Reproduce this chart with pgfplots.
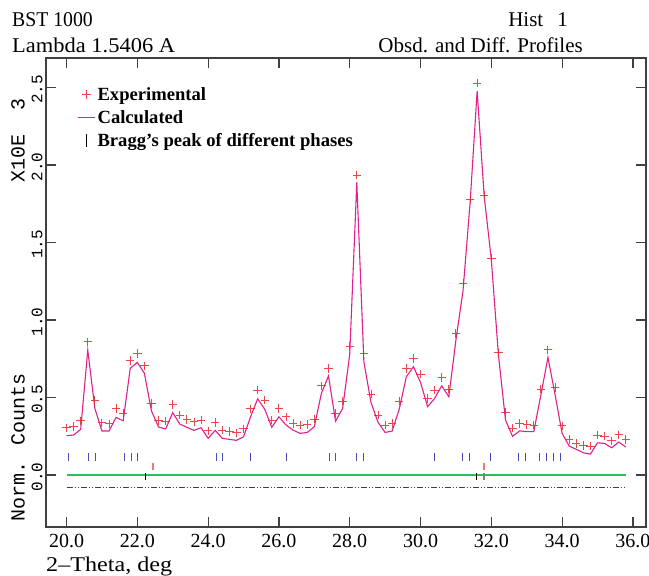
\documentclass[border=0pt]{standalone}
\usepackage{pgfplots}
\pgfplotsset{compat=1.18}
\usepackage{pgfplotstable}
\usepackage{fontspec}
\setmainfont{Liberation Serif}
\newfontfamily\monofont{Liberation Mono}
\definecolor{expred}{HTML}{E8262A}
\definecolor{calcmag}{HTML}{E0208C}
\definecolor{braggblue}{HTML}{4A4AB8}
\definecolor{braggred}{HTML}{F07878}
\definecolor{zgreen}{HTML}{2DBE5A}
\definecolor{axgray}{HTML}{404040}

\pgfplotstableread{
x y
20.0 0.305
20.2 0.314
20.4 0.350
20.6 0.860
20.8 0.484
21.0 0.337
21.2 0.331
21.4 0.430
21.6 0.398
21.8 0.740
22.0 0.785
22.2 0.705
22.4 0.462
22.6 0.353
22.8 0.348
23.0 0.456
23.2 0.387
23.4 0.359
23.6 0.344
23.8 0.355
24.0 0.286
24.2 0.340
24.4 0.290
24.6 0.280
24.8 0.273
25.0 0.299
25.2 0.428
25.4 0.548
25.6 0.484
25.8 0.355
26.0 0.430
26.2 0.376
26.4 0.333
26.6 0.323
26.8 0.327
27.0 0.361
27.2 0.576
27.4 0.688
27.6 0.398
27.8 0.477
28.0 0.828
28.2 1.935
28.4 0.785
28.6 0.523
28.8 0.387
29.0 0.323
29.2 0.333
29.4 0.477
29.6 0.688
29.8 0.753
30.0 0.650
30.2 0.495
30.4 0.548
30.6 0.628
30.8 0.555
31.0 0.914
31.2 1.237
31.4 1.780
31.6 2.527
31.8 1.802
32.0 1.398
32.2 0.789
32.4 0.404
32.6 0.303
32.8 0.333
33.0 0.327
33.2 0.323
33.4 0.554
33.6 0.808
33.8 0.565
34.0 0.317
34.2 0.230
34.4 0.204
34.6 0.191
34.8 0.187
35.0 0.258
35.2 0.252
35.4 0.221
35.6 0.260
35.8 0.230
}\expdata

\pgfplotstableread{
x y
20.0 0.254
20.2 0.258
20.4 0.295
20.6 0.806
20.8 0.430
21.0 0.284
21.2 0.284
21.4 0.372
21.6 0.350
21.8 0.688
22.0 0.727
22.2 0.656
22.4 0.413
22.6 0.310
22.8 0.297
23.0 0.403
23.2 0.329
23.4 0.308
23.6 0.288
23.8 0.305
24.0 0.237
24.2 0.288
24.4 0.237
24.6 0.230
24.8 0.224
25.0 0.247
25.2 0.376
25.4 0.492
25.6 0.424
25.8 0.308
26.0 0.376
26.2 0.323
26.4 0.290
26.6 0.269
26.8 0.275
27.0 0.312
27.2 0.527
27.4 0.639
27.6 0.348
27.8 0.430
28.0 0.778
28.2 1.888
28.4 0.731
28.6 0.469
28.8 0.340
29.0 0.275
29.2 0.284
29.4 0.426
29.6 0.634
29.8 0.699
30.0 0.598
30.2 0.441
30.4 0.495
30.6 0.576
30.8 0.505
31.0 0.871
31.2 1.187
31.4 1.753
31.6 2.477
31.8 1.796
32.0 1.391
32.2 0.778
32.4 0.355
32.6 0.250
32.8 0.285
33.0 0.280
33.2 0.280
33.4 0.516
33.6 0.759
33.8 0.520
34.0 0.269
34.2 0.187
34.4 0.166
34.6 0.144
34.8 0.135
35.0 0.208
35.2 0.204
35.4 0.176
35.6 0.213
35.8 0.181
}\calcdata

\pgfplotstableread{
x y
20.06 0.116
20.62 0.116
20.83 0.116
21.65 0.116
21.84 0.116
22.01 0.116
24.24 0.116
24.42 0.116
25.21 0.116
26.22 0.116
27.42 0.116
27.60 0.116
28.19 0.116
28.38 0.116
30.40 0.116
31.19 0.116
31.37 0.116
31.98 0.116
32.77 0.116
32.97 0.116
33.37 0.116
33.56 0.116
33.77 0.116
33.96 0.116
}\braggblue

\pgfplotstableread{
x y
22.44 0.052
31.79 0.052
}\braggred

\pgfplotstableread{
x y
22.22 -0.011
31.58 -0.011
}\braggblack

\begin{document}
\begin{tikzpicture}
\path[use as bounding box] (-46pt,-49pt) rectangle (603pt,527pt);
\begin{axis}[
  scale only axis, width=600pt, height=469pt,
  xmin=19.42, xmax=36.37, ymin=-0.335, ymax=2.69,
  xtick={20,22,...,36}, ytick={0,0.5,1.0,1.5,2.0,2.5},
  tick align=inside, major tick length=10pt,
  axis line style={axgray, line width=1.2pt},
  tick style={axgray, line width=1.2pt},
  clip=false,
  /pgf/number format/assume math mode=true,
  /pgf/number format/.cd, fixed, fixed zerofill, precision=1, /pgfplots/.cd,
  xticklabel style={font=\fontsize{20}{24}\selectfont, yshift=-4pt},
  yticklabel style={font=\monofont\fontsize{16}{18}\selectfont, rotate=90, anchor=south, xshift=-2pt},
  legend style={at={(rel axis cs:0.052,0.942)}, anchor=north west, draw=none, fill=none,
    font=\bfseries\fontsize{18.6}{21}\selectfont, row sep=4.5pt, inner sep=0pt},
  legend cell align=left,
]
\addplot[only marks, mark=+, mark size=4.2pt, expred, mark options={line width=0.9pt, opacity=0.85}] table {\expdata};
\addlegendentry{Experimental}
\addplot[calcmag, line width=1.1pt] table {\calcdata};
\addlegendentry{Calculated}
\addlegendimage{black, only marks, mark=|, mark size=6.5pt, mark options={line width=1pt}}
\addlegendentry{Bragg’s peak of different phases}
\addplot[only marks, mark=|, mark size=4pt, braggblue, mark options={line width=1pt}, forget plot] table {\braggblue};
\addplot[only marks, mark=|, mark size=3.5pt, braggred, mark options={line width=1.4pt}, forget plot] table {\braggred};
\addplot[zgreen, line width=1.2pt, forget plot] coordinates {(20.0,0) (35.8,0)};
\addplot[only marks, mark=|, mark size=3.5pt, black, mark options={line width=0.9pt}, forget plot] table {\braggblack};
\addplot[only marks, mark=|, mark size=3.5pt, gray, mark options={line width=1.4pt}, forget plot] coordinates {(31.79,-0.011)};
\addplot[axgray, line width=0.9pt, dash pattern=on 6pt off 2pt on 1pt off 2pt on 1pt off 2pt, forget plot] coordinates {(20.0,-0.078) (35.8,-0.078)};
\end{axis}
\node[anchor=base west, font=\fontsize{21}{25}\selectfont, inner sep=0pt] at (-34pt,500pt) {\scalebox{0.94}[1]{BST 1000}};
\node[anchor=base west, font=\fontsize{21}{25}\selectfont, inner sep=0pt] at (-34pt,474pt) {\scalebox{1.07}[1]{Lambda 1.5406 A}};
\node[anchor=base east, font=\fontsize{21}{25}\selectfont, inner sep=0pt] at (522pt,500pt) {Hist\hspace{14pt}1};
\node[anchor=base east, font=\fontsize{21}{25}\selectfont, inner sep=0pt] at (537pt,474pt) {Obsd. and Diff. Profiles};
\node[rotate=90, anchor=center, font=\monofont\fontsize{20}{24}\selectfont, inner sep=0pt] at (-28pt,80pt) {Norm. Counts};
\node[rotate=90, anchor=center, font=\monofont\fontsize{20}{24}\selectfont, inner sep=0pt] at (-28pt,387pt) {X10E\ \ 3};
\node[anchor=base west, font=\fontsize{21}{25}\selectfont, inner sep=0pt] at (0pt,-45pt) {\scalebox{1.15}[1]{2‒Theta, deg}};
\end{tikzpicture}
\end{document}
